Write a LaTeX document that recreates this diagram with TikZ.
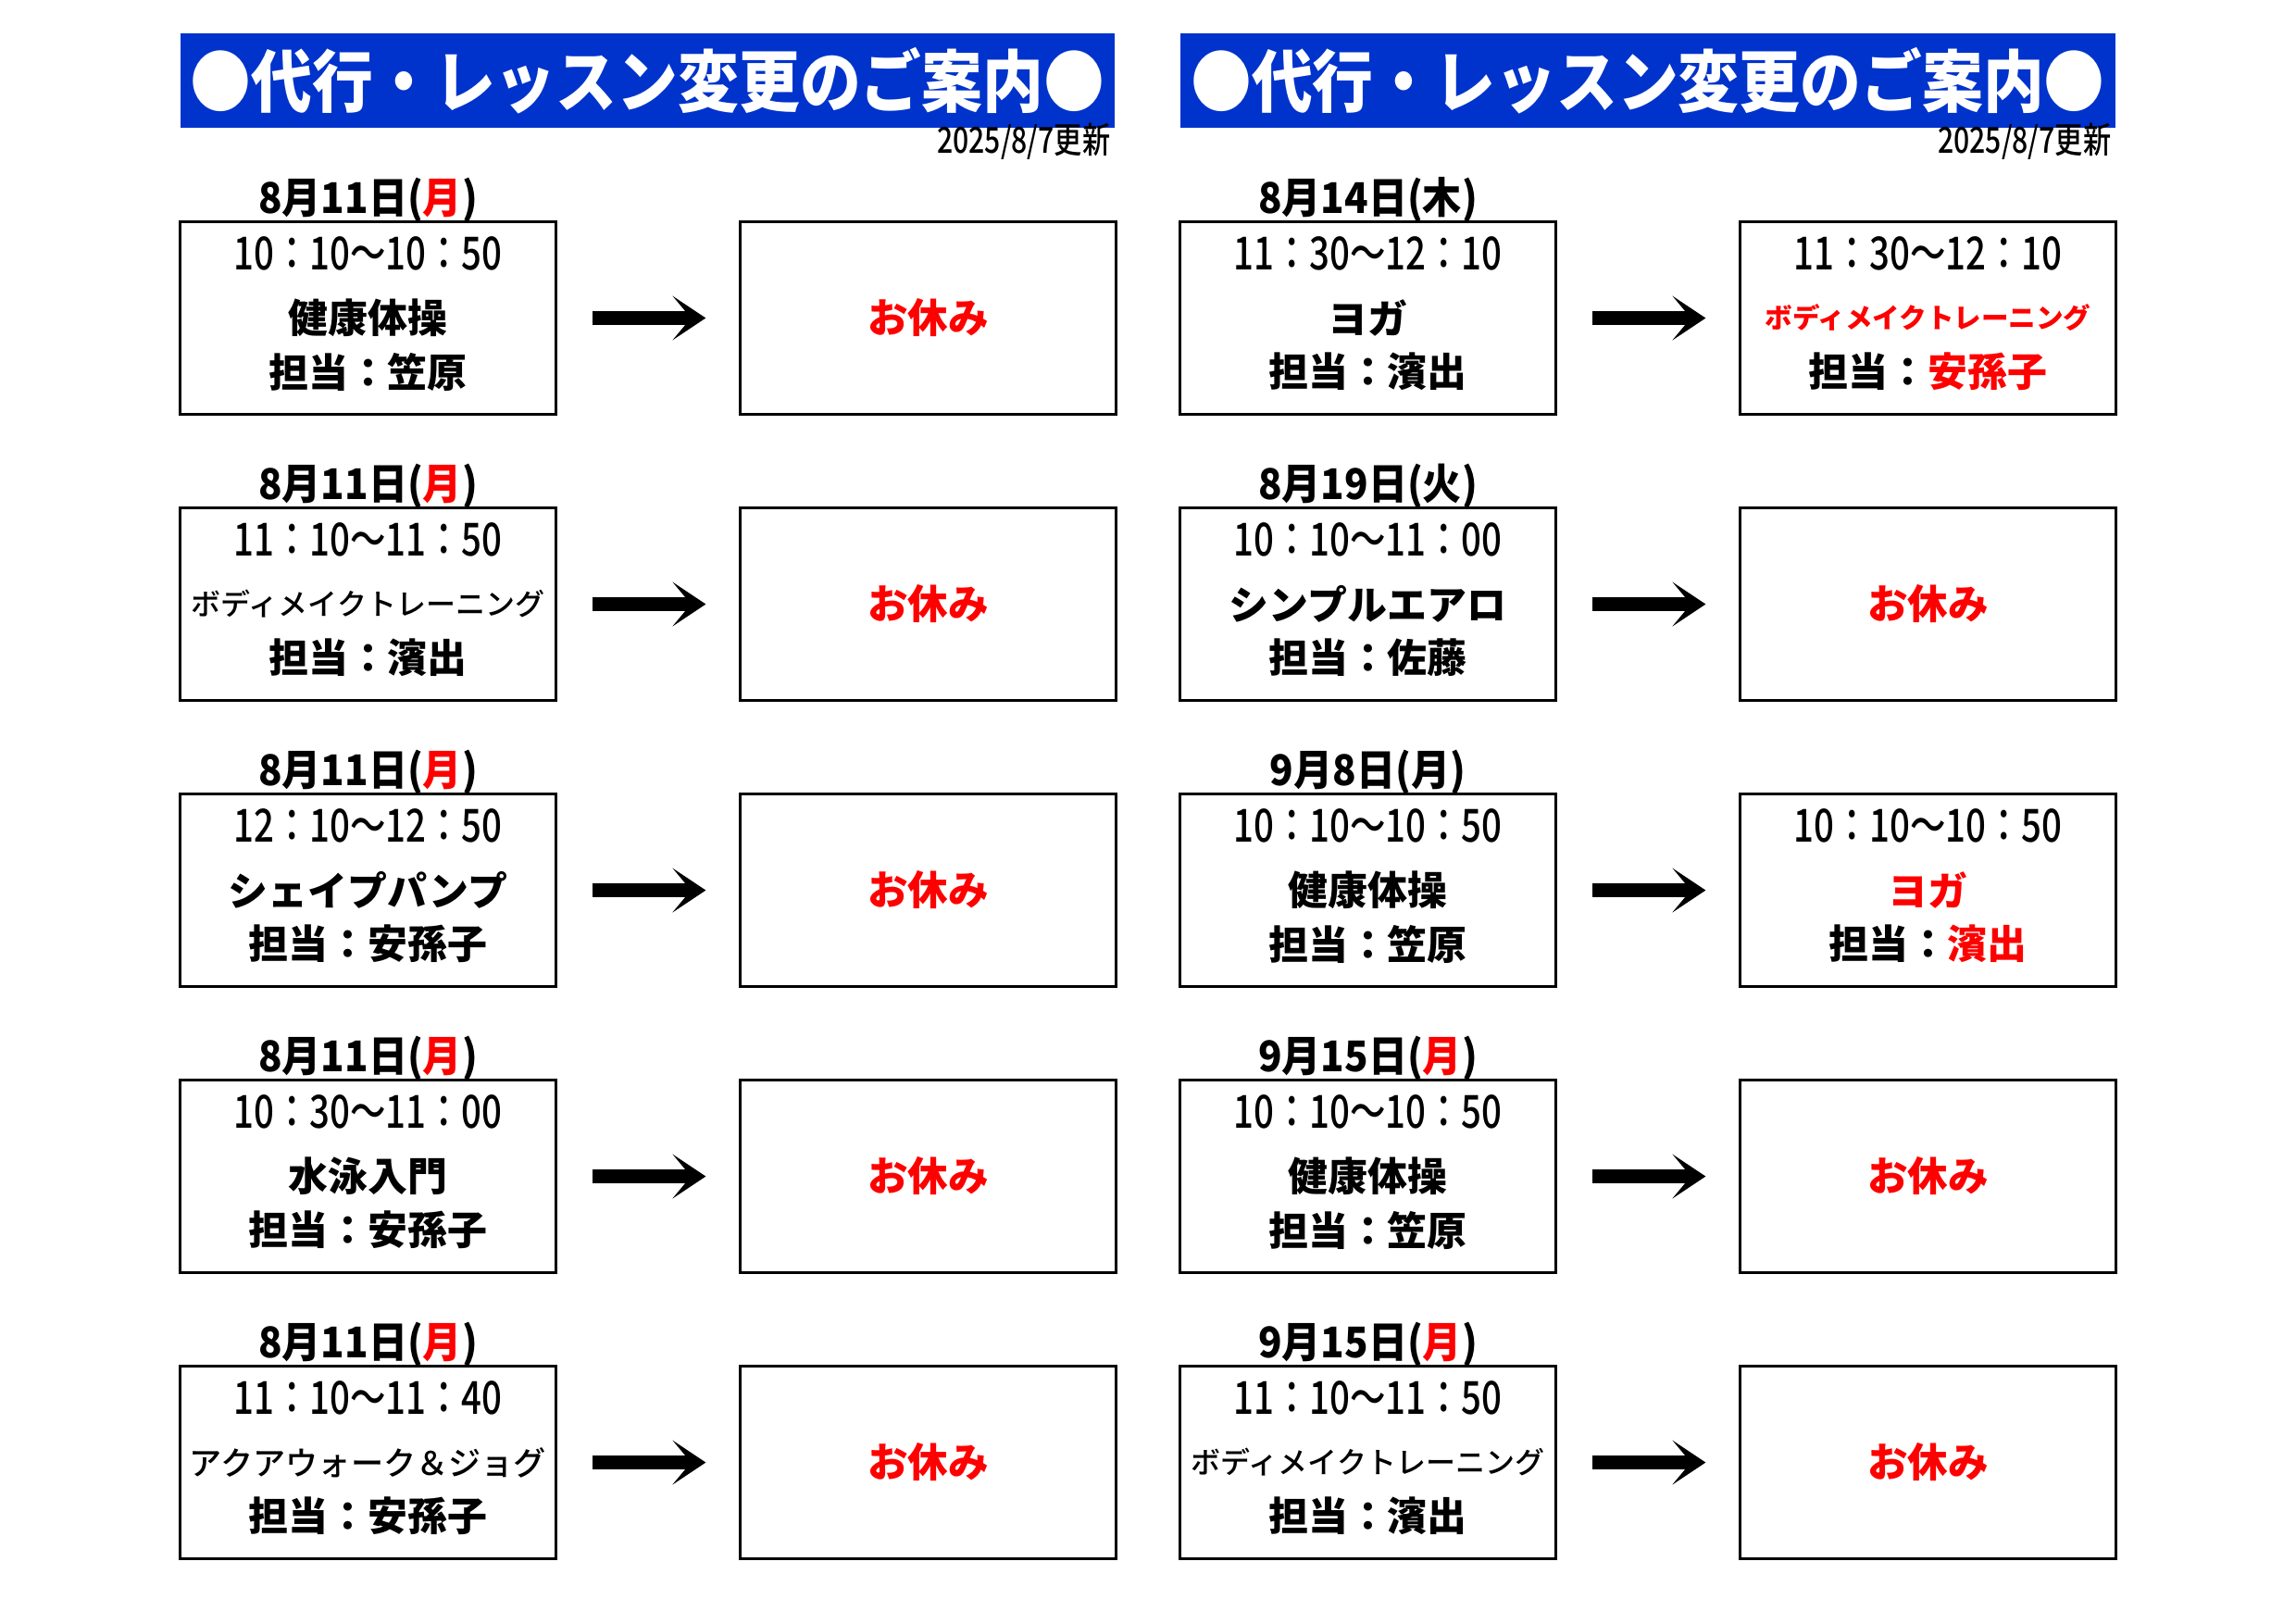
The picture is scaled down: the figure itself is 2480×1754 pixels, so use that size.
\documentclass[tikz,border=0pt]{standalone}
\usepackage{fontspec}
\setmainfont{Noto Sans CJK JP}
\newfontfamily\tmfont{Noto Sans CJK JP Medium}[FakeStretch=0.78]
\newfontfamily\dtfont{Noto Sans CJK JP}[FakeStretch=0.92]
\newfontfamily\mdfont{Noto Sans CJK JP Medium}
\newfontfamily\ttlfont{Noto Sans CJK JP}[FakeStretch=0.9]
\usetikzlibrary{arrows.meta,calc}
\definecolor{bannerblue}{RGB}{0,51,204}
\definecolor{hred}{RGB}{255,0,0}
\newcommand\fs[1]{\fontsize{#1}{#1}\selectfont}
\newcommand\R[1]{\textcolor{hred}{#1}}
\newcommand\smallk[1]{{\mdfont\mdseries\fs{9.1}#1}}
\tikzset{
  box/.style={draw, line width=0.03cm, minimum width=4.05cm, minimum height=2.07cm, inner sep=0pt},
  banner/.style={fill=bannerblue, minimum width=10.09cm, minimum height=1.02cm, inner sep=0pt, text=white, font=\ttlfont\bfseries\fs{20.8}},
  upd/.style={anchor=east, inner sep=0pt, font=\tmfont\fs{11}},
  tm/.style={inner sep=0pt, font=\tmfont\fs{14}},
  dt/.style={inner sep=0pt, font=\dtfont\bfseries\fs{13}},
  mid/.style={inner sep=0pt, font=\bfseries\fs{12.2}},
  rest/.style={inner sep=0pt, text=hred, font=\bfseries\fs{12.4}},
  bigarrow/.style={line width=0.15cm, -{Stealth[length=0.36cm,width=0.48cm,inset=0.2cm,line width=0pt]}, shorten <=0.385cm, shorten >=0.36cm}
}
% name, x, y, date, time, middle, who
\newcommand\lesson[7]{%
  \node[box] (#1) at (#2,#3) {};
  \node[dt] (#1d) at ($(#1.center)+(0,-128)$) {#4};
  \node[tm] (#1t) at ($(#1.center)+(0,-70)$) {#5};
  \node[mid] (#1m) at ($(#1.center)+(0,0)$) {#6};
  \node[mid] (#1w) at ($(#1.center)+(0,58)$) {#7};
}
% name, x, y, time, middle, who
\newcommand\newlesson[6]{%
  \node[box] (#1) at (#2,#3) {};
  \node[tm] (#1t) at ($(#1.center)+(0,-70)$) {#4};
  \node[mid] (#1m) at ($(#1.center)+(0,0)$) {#5};
  \node[mid] (#1w) at ($(#1.center)+(0,58)$) {#6};
}
\newcommand\closed[3]{%
  \node[box] (#1) at (#2,#3) {};
  \node[rest] (#1r) at (#1.center) {お休み};
}
\begin{document}
\begin{tikzpicture}[x=0.01cm, y=-0.01cm]
\useasboundingbox (0,0) rectangle (2480,1754);
% banners
\node[banner] (T1) at (699.5,87) {●代行・レッスン変更のご案内●};
\node[banner] (T2) at (1780,87) {●代行・レッスン変更のご案内●};
\node[upd] (U1) at (1200,153) {2025/8/7更新};
\node[upd] (U2) at (2281,153) {2025/8/7更新};
% left column
\lesson{a1}{397.5}{343.5}{8月11日(\R{月})}{10：10〜10：50}{健康体操}{担当：笠原}
\closed{b1}{1002.5}{343.5}
\lesson{a2}{397.5}{652.5}{8月11日(\R{月})}{11：10〜11：50}{\smallk{ボディメイクトレーニング}}{担当：濱出}
\closed{b2}{1002.5}{652.5}
\lesson{a3}{397.5}{961.5}{8月11日(\R{月})}{12：10〜12：50}{シェイプパンプ}{担当：安孫子}
\closed{b3}{1002.5}{961.5}
\lesson{a4}{397.5}{1270.5}{8月11日(\R{月})}{10：30〜11：00}{水泳入門}{担当：安孫子}
\closed{b4}{1002.5}{1270.5}
\lesson{a5}{397.5}{1579.5}{8月11日(\R{月})}{11：10〜11：40}{{\mdfont\mdseries\fs{10}アクアウォーク＆ジョグ}}{担当：安孫子}
\closed{b5}{1002.5}{1579.5}
% right column
\lesson{c1}{1477.5}{343.5}{8月14日(木)}{11：30〜12：10}{ヨガ}{担当：濱出}
\newlesson{d1}{2082.5}{343.5}{11：30〜12：10}{{\fs{8.4}\R{ボディメイクトレーニング}}}{担当：\R{安孫子}}
\lesson{c2}{1477.5}{652.5}{8月19日(火)}{10：10〜11：00}{シンプルエアロ}{担当：佐藤}
\closed{d2}{2082.5}{652.5}
\lesson{c3}{1477.5}{961.5}{9月8日(月)}{10：10〜10：50}{健康体操}{担当：笠原}
\newlesson{d3}{2082.5}{961.5}{10：10〜10：50}{\R{ヨガ}}{担当：\R{濱出}}
\lesson{c4}{1477.5}{1270.5}{9月15日(\R{月})}{10：10〜10：50}{健康体操}{担当：笠原}
\closed{d4}{2082.5}{1270.5}
\lesson{c5}{1477.5}{1579.5}{9月15日(\R{月})}{11：10〜11：50}{\smallk{ボディメイクトレーニング}}{担当：濱出}
\closed{d5}{2082.5}{1579.5}
% arrows
\foreach \s/\t in {a1/b1,a2/b2,a3/b3,a4/b4,a5/b5,c1/d1,c2/d2,c3/d3,c4/d4,c5/d5}
  \draw[bigarrow] (\s) -- (\t);
\end{tikzpicture}
\end{document}
